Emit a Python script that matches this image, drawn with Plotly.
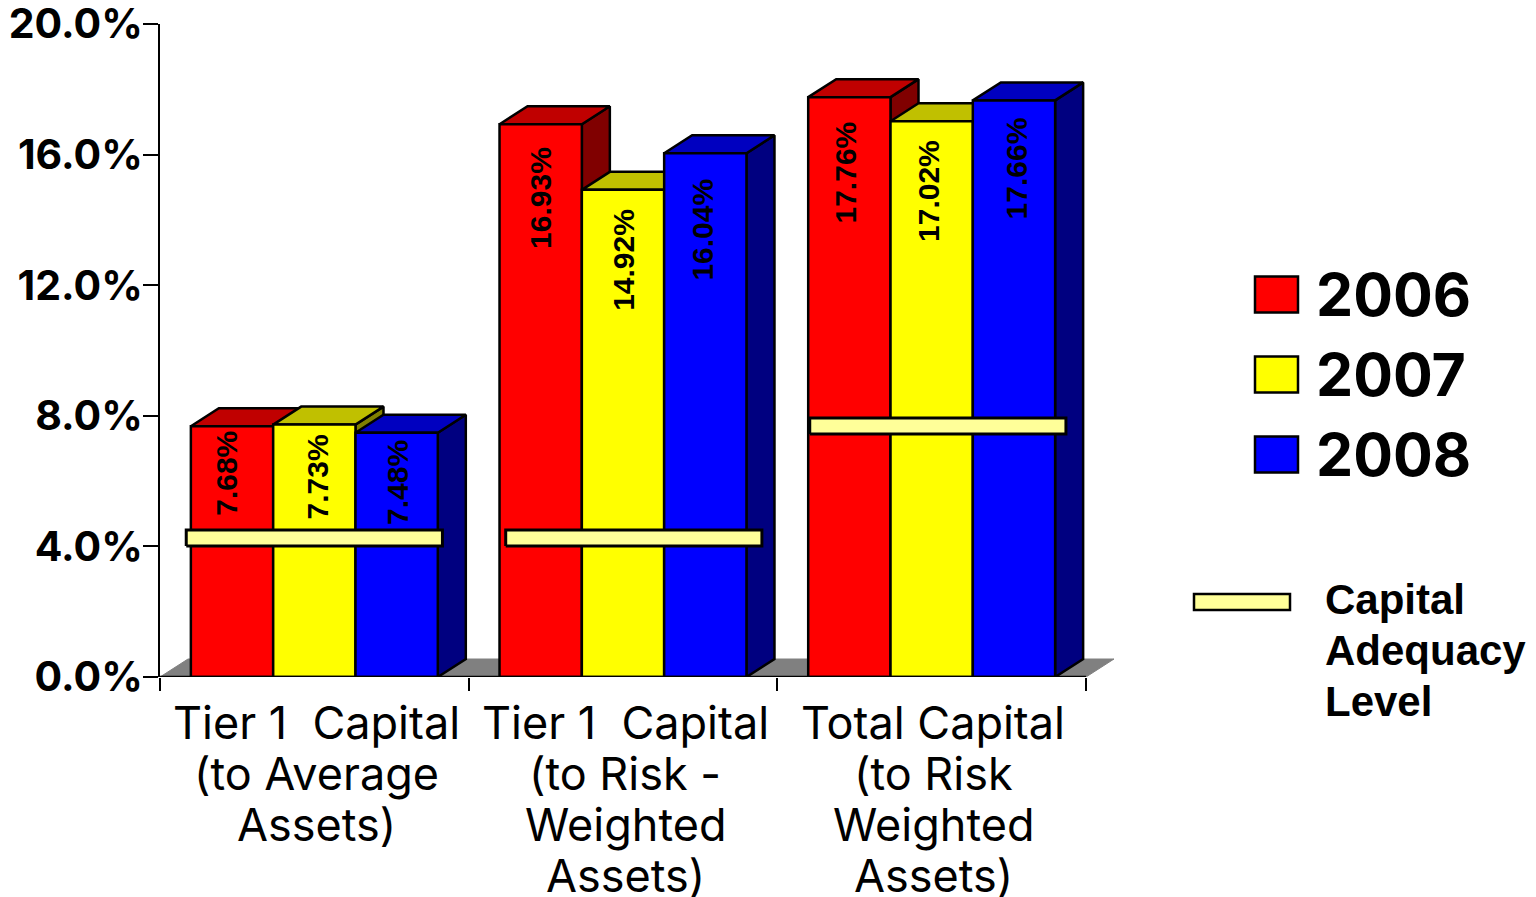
import plotly.graph_objects as go

W, H = 1536, 897

# ---- data ----
categories = [
    ["Tier 1\u00a0 Capital", "(to Average", "Assets)"],
    ["Tier 1\u00a0 Capital", "(to Risk -", "Weighted", "Assets)"],
    ["Total\u00a0Capital", "(to Risk", "Weighted", "Assets)"],
]
years = ["2006", "2007", "2008"]
values_2006 = [7.68, 16.93, 17.76]
values_2007 = [7.73, 14.92, 17.02]
values_2008 = [7.48, 16.04, 17.66]
labels_2006 = ["7.68%", "16.93%", "17.76%"]
labels_2007 = ["7.73%", "14.92%", "17.02%"]
labels_2008 = ["7.48%", "16.04%", "17.66%"]
capital_level = [4.26, 4.26, 7.69]
y_ticks = [0, 4, 8, 12, 16, 20]
y_tick_labels = ["0.0%", "4.0%", "8.0%", "12.0%", "16.0%", "20.0%"]
capital_legend = ["Capital", "Adequacy", "Level"]

# ---- styling ----
series = [values_2006, values_2007, values_2008]
labels = [labels_2006, labels_2007, labels_2008]
front = ["#FF0000", "#FFFF00", "#0000FF"]
top = ["#C00000", "#C0C000", "#0000C0"]
side = ["#800000", "#808000", "#000080"]
STRIP = "#FFFF99"
FLOOR = "#808080"

X0, X1, Y0, Y1 = 160, 1114, 677, 24      # plot box in pixels
CAT_PX = (1086 - 160) / 3
DX = 28 / CAT_PX                          # depth of the fake 3D, axis units
DY = 18 / ((Y0 - Y1) / 20)
BAR_W = 0.8 / 3
strip_center = [0.5, 1.535, 2.52]
STRIP_HALF_W = 0.415
STRIP_HALF_H = 0.245
label_gap = [[3, 21, 22], [8, 17, 17], [5, 23, 15]]   # [series][category], pixels below bar top
label_dx = [[-5, 0, -4], [3, 1, -3], [1, -3, 2]]

fig = go.Figure()


def poly(xs, ys, fill, line="black", xa="x", ya="y", lw=2.5):
    fig.add_trace(go.Scatter(x=xs + xs[:1], y=ys + ys[:1], mode="lines", fill="toself",
                             fillcolor=fill, line=dict(color=line, width=lw),
                             xaxis=xa, yaxis=ya, showlegend=False, hoverinfo="skip"))


# floor
poly([0, DX, 3 + DX, 3], [0, DY, DY, 0], FLOOR, line=FLOOR, lw=1)

# side and top faces, painted left to right
xc = [0.5, 1.5, 2.5]
for c in range(3):
    for s in range(3):
        left = xc[c] - 0.4 + s * BAR_W
        right = left + BAR_W
        v = series[s][c]
        poly([right, right + DX, right + DX, right], [0, DY, v + DY, v], side[s])
        poly([left, left + DX, right + DX, right], [v, v + DY, v + DY, v], top[s])

# front faces on an overlay so they cover the depth faces of their neighbours
for s in range(3):
    fig.add_trace(go.Bar(x=xc, y=series[s], name=years[s],
                         marker=dict(color=front[s], line=dict(color="black", width=2.5)),
                         xaxis="x2", yaxis="y2", showlegend=False, hoverinfo="skip"))

# baseline
fig.add_trace(go.Scatter(x=[0, 3], y=[0, 0], mode="lines", line=dict(color="black", width=2.5),
                         xaxis="x2", yaxis="y2", showlegend=False, hoverinfo="skip"))

# capital adequacy level strips
for c in range(3):
    a, b = strip_center[c] - STRIP_HALF_W, strip_center[c] + STRIP_HALF_W
    l = capital_level[c]
    poly([a, b, b, a], [l - STRIP_HALF_H, l - STRIP_HALF_H, l + STRIP_HALF_H, l + STRIP_HALF_H],
         STRIP, xa="x2", ya="y2", lw=3)

ann = []
# data labels
for s in range(3):
    for c in range(3):
        ann.append(dict(x=xc[c] - 0.4 + (s + 0.5) * BAR_W, y=series[s][c], xref="x2", yref="y2",
                        text=labels[s][c], textangle=-90, showarrow=False, xanchor="center", yanchor="top",
                        xshift=label_dx[s][c], yshift=-label_gap[s][c],
                        font=dict(family="Liberation Sans", size=30, color="black", weight="bold")))

# category labels
label_cx = [316, 625, 933]
for c, lines in enumerate(categories):
    for i, t in enumerate(lines):
        ann.append(dict(x=label_cx[c] / W, y=1 - (722.5 + 51 * i) / H, xref="paper", yref="paper", text=t,
                        showarrow=False, xanchor="center", yanchor="middle",
                        font=dict(family="Inter", size=45, color="black")))

# legend
shapes = []
for s in range(3):
    cy = 294.5 + 80 * s
    shapes.append(dict(type="rect", xref="paper", yref="paper", x0=1255 / W, x1=1298 / W,
                       y0=1 - (cy - 18) / H, y1=1 - (cy + 18) / H,
                       fillcolor=front[s], line=dict(color="black", width=2.5)))
    ann.append(dict(x=1314 / W, y=1 - cy / H, xref="paper", yref="paper", text=years[s], showarrow=False,
                    xanchor="left", yanchor="middle",
                    font=dict(family="Inter", size=59, color="black", weight="bold")))
shapes.append(dict(type="rect", xref="paper", yref="paper", x0=1194 / W, x1=1290 / W,
                   y0=1 - 594 / H, y1=1 - 610 / H, fillcolor=STRIP, line=dict(color="black", width=2.5)))
for i, t in enumerate(capital_legend):
    ann.append(dict(x=1323 / W, y=1 - (599 + 51 * i) / H, xref="paper", yref="paper", text=t, showarrow=False,
                    xanchor="left", yanchor="middle",
                    font=dict(family="Liberation Sans", size=42, color="black", weight="bold")))

xdom = [X0 / W, X1 / W]
ydom = [1 - Y0 / H, 1 - Y1 / H]
xrange_ = [0, 3 + DX]
fig.update_layout(
    width=W, height=H, margin=dict(l=0, r=0, t=0, b=0, autoexpand=False),
    paper_bgcolor="white", plot_bgcolor="rgba(0,0,0,0)", showlegend=False,
    barmode="group", bargap=0.2, bargroupgap=0,
    annotations=ann, shapes=shapes,
    xaxis=dict(domain=xdom, range=xrange_, tickvals=[0, 1, 2, 3], ticktext=["", "", "", ""], ticks="outside",
               ticklen=13, tickwidth=2, tickcolor="black", showgrid=False, zeroline=False, showline=False),
    yaxis=dict(domain=ydom, range=[0, 20], tickvals=y_ticks, ticktext=y_tick_labels, ticks="outside",
               ticklen=15, tickwidth=2, tickcolor="black", showgrid=False, zeroline=False, showline=True,
               linecolor="black", linewidth=2, ticklabelstandoff=-8, ticklabeloverflow="allow",
               tickfont=dict(family="Inter", size=41, color="black", weight="bold")),
    xaxis2=dict(domain=xdom, range=xrange_, overlaying="x", visible=False),
    yaxis2=dict(domain=ydom, range=[0, 20], overlaying="y", visible=False),
)
fig.write_html("out.html", config=dict(displayModeBar=False),
               post_script="document.body.style.margin='0';document.documentElement.style.overflow='hidden';")
